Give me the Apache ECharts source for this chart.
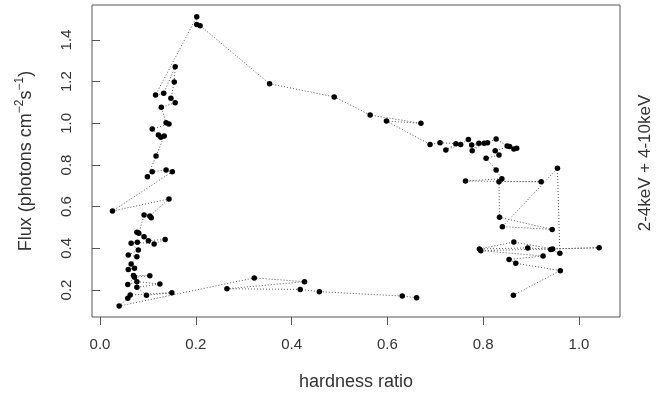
<!DOCTYPE html>
<html>
<head>
<meta charset="utf-8">
<script src="https://cdn.jsdelivr.net/npm/echarts@6/dist/echarts.min.js"></script>
<style>
  html, body { margin: 0; padding: 0; background: #fff; }
  #chart { width: 666px; height: 396px; }
</style>
</head>
<body>
<div id="chart"></div>
<script>
// observations in time order: hardness ratio and flux
const hardness = [
  0.661, 0.631, 0.458, 0.418, 0.265, 0.427, 0.322, 0.040, 0.058, 0.063,
  0.150, 0.097, 0.077, 0.125, 0.077, 0.058, 0.072, 0.104, 0.070, 0.059,
  0.072, 0.065, 0.077, 0.059, 0.080, 0.065, 0.078, 0.113, 0.136, 0.101,
  0.092, 0.081, 0.077, 0.092, 0.104, 0.107, 0.144, 0.026, 0.151, 0.138,
  0.109, 0.099, 0.117, 0.134, 0.127, 0.122, 0.109, 0.144, 0.138, 0.128,
  0.157, 0.148, 0.155, 0.157, 0.133, 0.116, 0.202, 0.202, 0.209, 0.354,
  0.489, 0.564, 0.670, 0.598, 0.689, 0.710, 0.743, 0.722, 0.753, 0.769,
  0.776, 0.791, 0.777, 0.802, 0.809, 0.827, 0.850, 0.864, 0.870, 0.855,
  0.825, 0.833, 0.806, 0.827, 0.839, 0.763, 0.921, 0.833, 0.834, 0.944,
  0.840, 0.955, 0.960, 0.941, 0.893, 0.792, 0.864, 0.945, 1.042, 0.795,
  0.925, 0.854, 0.868, 0.961, 0.863
];
const flux = [
  0.163, 0.171, 0.192, 0.203, 0.206, 0.240, 0.258, 0.123, 0.160, 0.176,
  0.187, 0.175, 0.213, 0.229, 0.240, 0.227, 0.261, 0.269, 0.270, 0.299,
  0.304, 0.325, 0.360, 0.368, 0.392, 0.424, 0.429, 0.421, 0.443, 0.437,
  0.456, 0.472, 0.477, 0.560, 0.555, 0.547, 0.637, 0.579, 0.768, 0.776,
  0.768, 0.744, 0.843, 0.939, 0.933, 0.944, 0.973, 0.997, 1.003, 1.077,
  1.099, 1.120, 1.199, 1.272, 1.144, 1.136, 1.512, 1.475, 1.469, 1.190,
  1.127, 1.040, 1.000, 1.011, 0.899, 0.907, 0.902, 0.872, 0.899, 0.923,
  0.896, 0.904, 0.869, 0.904, 0.907, 0.925, 0.891, 0.877, 0.880, 0.889,
  0.869, 0.848, 0.832, 0.776, 0.734, 0.723, 0.720, 0.720, 0.549, 0.491,
  0.504, 0.784, 0.376, 0.395, 0.402, 0.397, 0.430, 0.397, 0.403, 0.389,
  0.363, 0.347, 0.328, 0.293, 0.175
];
const xTicks = [0.0, 0.2, 0.4, 0.6, 0.8, 1.0];
const yTicks = [0.2, 0.4, 0.6, 0.8, 1.0, 1.2, 1.4];

const points = hardness.map((h, i) => [h, flux[i]]);

const chart = echarts.init(document.getElementById('chart'), null, { renderer: 'canvas' });
const font = 'Liberation Sans, Arial, sans-serif';

chart.setOption({
  animation: false,
  backgroundColor: '#fff',
  grid: {
    left: 92, right: 46, top: 5, bottom: 79,
    show: true,
    borderColor: '#555',
    borderWidth: 1
  },
  xAxis: {
    type: 'value',
    min: -0.0167,
    max: 1.0856,
    splitLine: { show: false },
    axisLine: { show: false },
    axisTick: { show: true, customValues: xTicks, length: 8, lineStyle: { color: '#555' } },
    axisLabel: {
      customValues: xTicks,
      formatter: v => v.toFixed(1),
      margin: 20,
      fontFamily: font, fontSize: 15, color: '#333'
    },
    name: 'hardness ratio',
    nameLocation: 'middle',
    nameGap: 56,
    nameTextStyle: { fontFamily: font, fontSize: 18, color: '#333' }
  },
  yAxis: {
    type: 'value',
    min: 0.0704,
    max: 1.568,
    splitLine: { show: false },
    axisLine: { show: false },
    axisTick: { show: true, customValues: yTicks, length: 8, lineStyle: { color: '#555' } },
    axisLabel: {
      customValues: yTicks,
      formatter: v => v.toFixed(1),
      rotate: 90,
      margin: 18,
      fontFamily: font, fontSize: 15, color: '#333'
    },
    name: '{n|Flux (photons cm}{s|−2}{n|s}{s|−1}{n|)}',
    nameLocation: 'middle',
    nameRotate: 90,
    nameGap: 54,
    nameTextStyle: {
      fontFamily: font, fontSize: 18, color: '#333',
      rich: {
        n: { fontFamily: font, fontSize: 18, color: '#333' },
        s: { fontFamily: font, fontSize: 12, color: '#333', padding: [0, 0, 12, 0] }
      }
    }
  },
  graphic: [{
    type: 'text',
    x: 645,
    y: 163,
    rotation: Math.PI / 2,
    style: {
      text: '2-4keV + 4-10keV',
      fontFamily: font,
      fontSize: 17,
      fill: '#333',
      align: 'center',
      verticalAlign: 'middle'
    }
  }],
  series: [{
    type: 'line',
    data: points,
    symbol: 'circle',
    symbolSize: 5.5,
    itemStyle: { color: '#000' },
    lineStyle: { color: '#555', width: 1, type: [1, 2] },
    z: 2
  }]
});
</script>
</body>
</html>
